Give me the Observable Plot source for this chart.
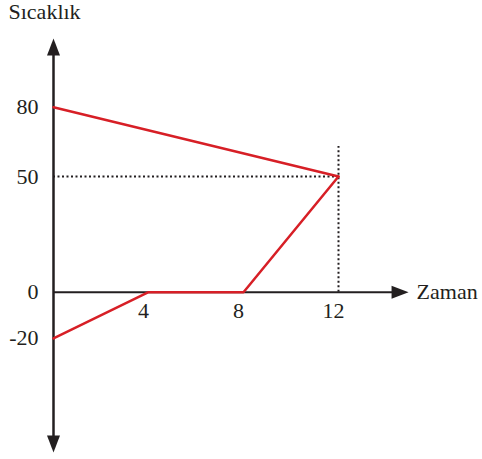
<!DOCTYPE html>
<html>
<head>
<meta charset="utf-8">
<script src="https://cdn.jsdelivr.net/npm/d3@7"></script>
<script src="https://cdn.jsdelivr.net/npm/@observablehq/plot@0.6"></script>
<style>
  html, body { margin: 0; padding: 0; background: #fff; }
</style>
</head>
<body>
<div id="chart"></div>
<script>
// Data
const xTicks = [4, 8, 12];
const yTicks = [80, 50, 0, -20];
const lineA_time = [0, 12];
const lineA_temp = [80, 50];
const lineB_time = [0, 4, 8, 12];
const lineB_temp = [-20, 0, 0, 50];
const guideTemp = 50;
const guideTime = 12;
const guideTop = 63;
const xAxisEnd = 14.95;
const yAxisTop = 109.7;
const yAxisBottom = -69.3;
const yTitle = "Sıcaklık";
const xTitle = "Zaman";

const lineA = lineA_time.map((t, i) => ({t, v: lineA_temp[i]}));
const lineB = lineB_time.map((t, i) => ({t, v: lineB_temp[i]}));

const RED = "#d71f26";
const INK = "#231f20";
const FONT = "'Liberation Serif', 'DejaVu Serif', serif";

// arrowhead symbol: tip at origin, pointing up
const arrowHead = {
  draw(context) {
    context.moveTo(0, 0);
    context.lineTo(6.5, 17);
    context.lineTo(-6.5, 17);
    context.closePath();
  }
};

const arrows = [
  {x: 0, y: yAxisTop, r: 0},
  {x: 0, y: yAxisBottom, r: 180},
  {x: xAxisEnd, y: 0, r: 90}
];

const chart = Plot.plot({
  width: 482,
  height: 459,
  margin: 0,
  x: {domain: [0, 12], range: [53, 338], axis: null},
  y: {domain: [0, 80], range: [291.7, 106.7], axis: null},
  style: {background: "#fff", fontFamily: FONT, fontSize: "22px", color: INK},
  marks: [
    // dotted guides
    Plot.ruleY([guideTemp], {x1: 0, x2: guideTime, stroke: INK, strokeWidth: 2, strokeDasharray: "2,2.5"}),
    Plot.ruleX([guideTime], {y1: 0, y2: guideTop, stroke: INK, strokeWidth: 2, strokeDasharray: "2,2.5"}),
    // axes
    Plot.ruleY([0], {x1: 0, x2: xAxisEnd - 0.4, stroke: INK, strokeWidth: 2}),
    Plot.ruleX([0], {y1: yAxisBottom + 3, y2: yAxisTop - 3, stroke: INK, strokeWidth: 2.5}),
    Plot.dot(arrows, {x: "x", y: "y", rotate: "r", symbol: arrowHead, fill: INK, stroke: "none"}),
    // series
    Plot.line(lineA, {x: "t", y: "v", stroke: RED, strokeWidth: 2.5}),
    Plot.line(lineB, {x: "t", y: "v", stroke: RED, strokeWidth: 2.5}),
    // tick labels
    Plot.text(xTicks, {x: d => d, y: 0, dy: 19, dx: -5, text: d => String(d), fill: INK, fontSize: 22}),
    Plot.text(yTicks, {x: 0, y: d => d, dx: -15, textAnchor: "end", text: d => String(d), fill: INK, fontSize: 22}),
    // titles
    Plot.text([xTitle], {x: xAxisEnd, y: 0, dx: 8, textAnchor: "start", text: d => d, fill: INK, fontSize: 22}),
    Plot.text([yTitle], {frameAnchor: "top-left", dx: 8, dy: 3, lineAnchor: "top", textAnchor: "start", text: d => d, fill: INK, fontSize: 22})
  ]
});

document.getElementById("chart").appendChild(chart);
</script>
</body>
</html>
